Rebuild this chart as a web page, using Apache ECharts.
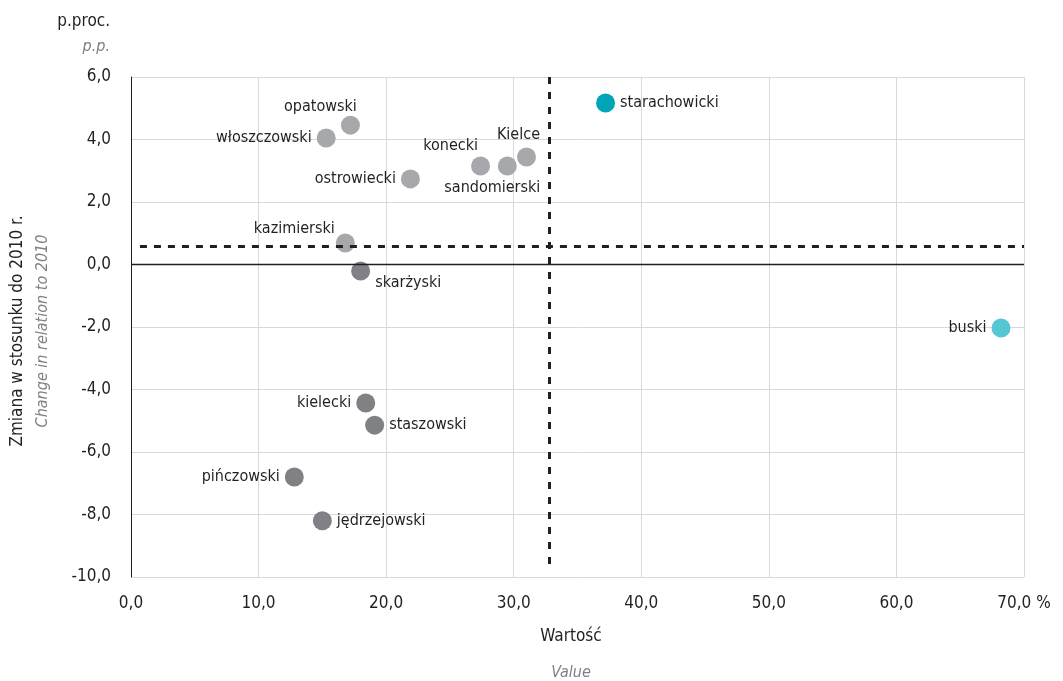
<!DOCTYPE html>
<html><head><meta charset="utf-8">
<script src="https://cdn.jsdelivr.net/npm/echarts@6/dist/echarts.min.js"></script>
<style>html,body{margin:0;padding:0;background:#fff}#c{width:1063px;height:681px}</style>
</head><body><div id="c"></div>
<script>
const names = ['starachowicki','buski','opatowski','włoszczowski','konecki','sandomierski','Kielce','ostrowiecki','kazimierski','skarżyski','kielecki','staszowski','pińczowski','jędrzejowski'];
const values = [37.2, 68.2, 17.2, 15.3, 27.4, 29.5, 31.0, 21.9, 16.8, 18.0, 18.4, 19.1, 12.8, 15.0];
const changes = [5.17, -2.03, 4.46, 4.05, 3.15, 3.15, 3.44, 2.74, 0.69, -0.21, -4.43, -5.14, -6.8, -8.2];
const groups = ['teal','cyan','light','light','light','light','light','light','light','dark','dark','dark','dark','dark'];
const avgValue = 32.8;
const avgChange = 0.6;
const xTicks = [0,10,20,30,40,50,60,70];
const yTicks = [-10,-8,-6,-4,-2,0,2,4,6];

const colors = {teal:'#00a6b8', cyan:'#55c6d4', light:'#a7a8ab', dark:'#808185'};
const place = {
  'starachowicki':['right',[0,0]], 'buski':['left',[0,0]], 'opatowski':['top',[-30,4]],
  'włoszczowski':['left',[0,0]], 'konecki':['left',[12,-20]], 'sandomierski':['bottom',[-15,-1]],
  'Kielce':['top',[-8,0]], 'ostrowiecki':['left',[0,0]], 'kazimierski':['left',[4,-14]],
  'skarżyski':['right',[0,12]], 'kielecki':['left',[0,0]], 'staszowski':['right',[0,0]],
  'pińczowski':['left',[0,0]], 'jędrzejowski':['right',[0,0]]
};
const FONT = "'DejaVu Sans Condensed','Liberation Sans Narrow',sans-serif";
const fmt = v => v.toFixed(1).replace('.', ',');

const data = names.map((n,i)=>({
  name:n, value:[values[i], changes[i]],
  itemStyle:{color:colors[groups[i]], opacity:1},
  label:{position:place[n][0], offset:place[n][1]}
}));

const chart = echarts.init(document.getElementById('c'));
chart.setOption({
  animation:false,
  textStyle:{fontFamily:FONT},
  grid:{left:131,right:39,top:77,bottom:104,containLabel:false},
  xAxis:{type:'value',min:0,max:70,interval:10,
    axisLine:{show:false},axisTick:{show:false},
    splitLine:{show:true,lineStyle:{color:'#d9d9da',width:1}},
    axisLabel:{color:'#231f20',fontSize:17,fontFamily:FONT,margin:18,
      formatter:v=> v===70 ? fmt(v)+' %' : fmt(v)}},
  yAxis:{type:'value',min:-10,max:6,interval:2,
    axisLine:{show:true,onZero:false,lineStyle:{color:'#231f20',width:1}},axisTick:{show:false},
    splitLine:{show:true,lineStyle:{color:'#d9d9da',width:1}},
    axisLabel:{color:'#231f20',fontSize:17,fontFamily:FONT,margin:20,formatter:v=>fmt(v)}},
  series:[{
    type:'scatter', symbolSize:19, data:data,
    itemStyle:{opacity:1},
    label:{show:true,formatter:'{b}',color:'#231f20',fontSize:16,fontFamily:FONT,distance:5,opacity:1},
    emphasis:{disabled:true},
    markLine:{silent:true,symbol:'none',label:{show:false},
      data:[
        [{coord:[0,0],lineStyle:{color:'#231f20',width:1.3,type:'solid'}},{coord:[70,0]}],
        [{coord:[0.7,avgChange],lineStyle:{color:'#231f20',width:3,type:[7,7]}},{coord:[70,avgChange]}],
        [{coord:[avgValue,6],lineStyle:{color:'#231f20',width:3,type:[7,8]}},{coord:[avgValue,-9.6]}]
      ]}
  }],
  graphic:[
    {type:'text',x:110,y:22,style:{text:'p.proc.',fill:'#231f20',font:'17px '+FONT,align:'right',verticalAlign:'middle'}},
    {type:'text',x:110,y:47,style:{text:'p.p.',fill:'#808185',font:'italic 16px '+FONT,align:'right',verticalAlign:'middle'}},
    {type:'text',x:571,y:637,style:{text:'Wartość',fill:'#231f20',font:'17px '+FONT,align:'center',verticalAlign:'middle'}},
    {type:'text',x:571,y:673,style:{text:'Value',fill:'#808185',font:'italic 16px '+FONT,align:'center',verticalAlign:'middle'}},
    {type:'text',x:18,y:331,rotation:Math.PI/2,style:{text:'Zmiana w stosunku do 2010 r.',fill:'#231f20',font:'17px '+FONT,align:'center',verticalAlign:'middle'}},
    {type:'text',x:43,y:331,rotation:Math.PI/2,style:{text:'Change in relation to 2010',fill:'#808185',font:'italic 16px '+FONT,align:'center',verticalAlign:'middle'}}
  ]
});
</script></body></html>
